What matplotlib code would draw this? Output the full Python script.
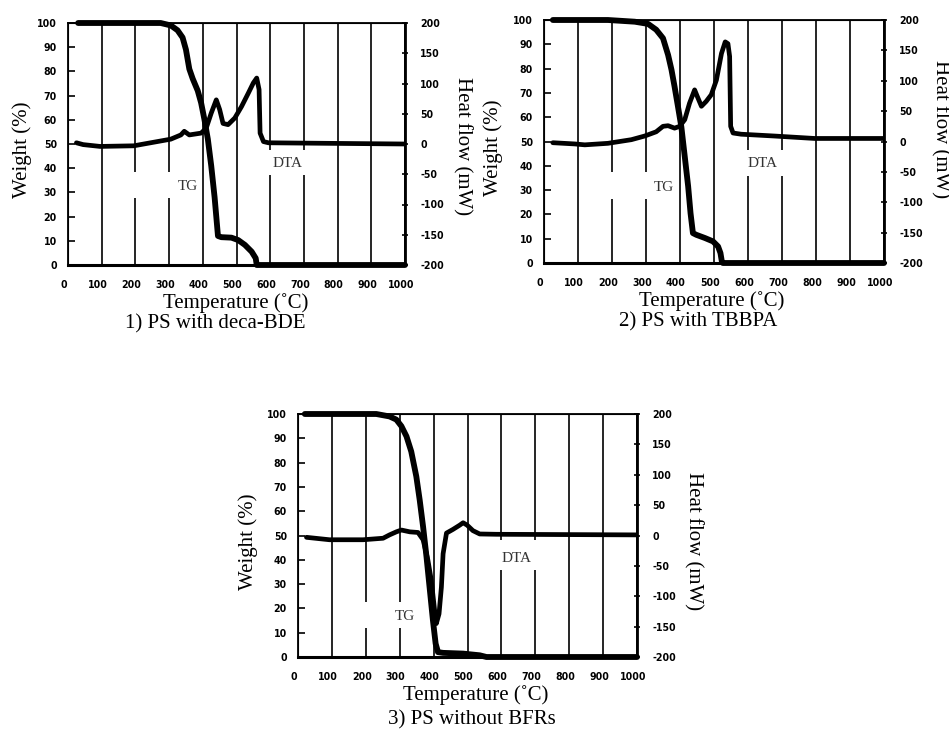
import numpy as np
import matplotlib
matplotlib.use("Agg")
import matplotlib.pyplot as plt
import matplotlib.transforms as mtransforms
from matplotlib.patches import Rectangle

# ---- data ----
# panel 1: PS with deca-BDE
tg1_t = [30, 150, 275, 305, 325, 340, 350, 360, 370, 385, 395, 405, 415, 425, 435, 440, 445,
         455, 485, 505, 525, 545, 557, 560, 600, 1000]
tg1_w = [100, 100, 100, 99, 97, 94, 89, 81, 77, 72, 67, 60, 52, 41, 28, 20, 12,
         11.5, 11.3, 10.3, 8.3, 5.5, 2.8, 0, 0, 0]
dta1_t = [25, 45, 95, 195, 245, 305, 335, 345, 360, 395, 410, 425, 440, 450, 460, 475, 495,
          515, 535, 550, 560, 567, 570, 580, 595, 795, 1000]
dta1_h = [2, -1, -4, -3, 2, 8, 15, 21, 15, 18, 26, 51, 73, 57, 34, 32, 43,
          62, 84, 101, 109, 90, 18, 4, 2, 1, 0]

# panel 2: PS with TBBPA
tg2_t = [26, 188, 267, 306, 330, 350, 365, 375, 384, 394, 404, 414, 424, 431, 438, 448,
         473, 497, 512, 519, 523, 526, 600, 1000]
tg2_w = [100, 100, 99.3, 98.4, 96, 92.5, 85.6, 79.5, 72.6, 64.4, 56, 43.8, 31.5, 20.5, 12.3, 11.6,
         10.3, 8.9, 6.8, 4.1, 0.7, 0, 0, 0]
dta2_t = [26, 90, 120, 188, 257, 296, 330, 350, 365, 384, 399, 414, 428, 443, 451, 463, 477,
          492, 507, 522, 533, 541, 546, 549, 556, 580, 678, 796, 1000]
dta2_h = [-2, -4, -5.5, -3, 3, 9, 16, 25, 26, 22, 25, 36, 63, 85, 74, 58, 66,
          77, 101, 145, 164, 161, 140, 25, 14, 12, 9, 5, 5]

# panel 3: PS without BFRs
tg3_t = [20, 231, 270, 290, 305, 320, 334, 349, 359, 369, 379, 388, 398, 406, 413, 428,
         487, 536, 556, 600, 1000]
tg3_w = [100, 100, 99, 97.7, 95, 90.8, 84.6, 74.3, 64.6, 53.6, 41.3, 28.9, 15.1, 5.5, 2, 1.7,
         1.4, 0.7, 0, 0, 0]
dta3_t = [25, 93, 192, 251, 270, 290, 305, 330, 354, 369, 383, 393, 403, 408, 416, 423, 428,
          438, 457, 477, 487, 499, 516, 536, 585, 1000]
dta3_h = [-3, -7, -7, -4.5, 1, 6, 9, 6, 5, -7, -40, -73, -123, -145, -129, -85, -30,
          4, 10, 17, 21, 17, 8, 2.5, 2, 1]

x_ticks = list(range(0, 1001, 100))
w_ticks = list(range(0, 101, 10))
h_ticks = list(range(-200, 201, 50))

titles = ["1) PS with deca-BDE", "2) PS with TBBPA", "3) PS without BFRs"]

# ---- layout (pixels) ----
W, H = 949, 740
fig = plt.figure(figsize=(W / 100, H / 100), dpi=100)


def px(x0, y0, x1, y1):
    return [x0 / W, 1 - y1 / H, (x1 - x0) / W, (y1 - y0) / H]


serif = "Liberation Serif"
tick_font = dict(family="DejaVu Sans", weight="bold", size=7.6, stretch="condensed")


def panel(box, tg_t, tg_w, dta_t, dta_h, tg_lab, dta_lab, tg_box, dta_box,
          wlab_x, hlab_x, hlab_dy, title_x, temp_x):
    ax = fig.add_axes(px(*box))
    ax.set_xlim(0, 1000)
    ax.set_ylim(0, 100)
    for v in x_ticks[1:-1]:
        ax.axvline(v, color="black", lw=1.2, zorder=1)
    # white boxes under the curve labels, cutting the grid like in the original
    for (x0, x1, y0, y1) in (tg_box, dta_box):
        ax.add_patch(Rectangle((x0, y0), x1 - x0, y1 - y0, facecolor="white",
                               edgecolor="none", zorder=1.5))
    ax.text(tg_lab[0], tg_lab[1], "TG", family=serif, size=11, color="#333333",
            ha="center", va="center", zorder=1.6)
    ax.text(dta_lab[0], dta_lab[1], "DTA", family=serif, size=11, color="#333333",
            ha="center", va="center", zorder=1.6)
    ax.plot(tg_t, tg_w, color="black", lw=4.2, solid_joinstyle="round",
            solid_capstyle="round", zorder=3, clip_on=False)

    ax.set_xticks(x_ticks)
    ax.set_xticklabels([str(v) for v in x_ticks], **tick_font)
    ax.set_yticks(w_ticks)
    ax.set_yticklabels([str(v) for v in w_ticks], **tick_font)
    ax.tick_params(axis="x", length=0, pad=11)
    ax.tick_params(axis="y", direction="in", length=5, width=1.2, pad=8)
    off = mtransforms.ScaledTranslation(-4 / 100, 0, fig.dpi_scale_trans)
    for lab in ax.get_xticklabels():
        lab.set_transform(lab.get_transform() + off)
    for s in ax.spines.values():
        s.set_linewidth(1.3)
    ax.spines["bottom"].set_linewidth(2.2)

    ax2 = ax.twinx()
    ax2.set_ylim(-200, 200)
    ax2.plot(dta_t, dta_h, color="black", lw=3.4, solid_joinstyle="round",
             solid_capstyle="round", zorder=3)
    ax2.set_yticks(h_ticks)
    ax2.set_yticklabels([str(v) for v in h_ticks], **tick_font)
    ax2.tick_params(axis="y", direction="inout", length=4, width=1.2, pad=9)
    ax2.spines["right"].set_linewidth(2.0)

    x0, y0, x1, y1 = box
    cy = (y0 + y1) / 2
    fig.text(wlab_x / W, 1 - (cy + 6) / H, "Weight (%)", family=serif, size=15,
             rotation=90, ha="center", va="center")
    fig.text(hlab_x / W, 1 - (cy + hlab_dy) / H, "Heat flow (mW)", family=serif, size=15,
             rotation=270, ha="center", va="center")
    fig.text(temp_x / W, 1 - (y1 + 38) / H, "Temperature (\u02daC)", family=serif, size=15,
             ha="center", va="center")
    return ax


panel((68, 23, 405, 265), tg1_t, tg1_w, dta1_t, dta1_h,
      (355, 32.5), (652, 42), (150, 380, 27.5, 38.5), (545, 750, 37, 47.5),
      22, 462, 2, 215, 236)
panel((544, 20, 884, 263), tg2_t, tg2_w, dta2_t, dta2_h,
      (352, 31), (644, 41), (150, 385, 26.5, 37.5), (562, 748, 36, 46.5),
      493, 940, -12, 698, 712)
panel((298, 414, 637, 657), tg3_t, tg3_w, dta3_t, dta3_h,
      (315, 16.5), (646, 40.5), (145, 380, 12, 22.6), (566, 752, 36, 48),
      248, 693, 6, 472, 476)

fig.text(215 / W, 1 - 324 / H, titles[0], family=serif, size=15, ha="center", va="center")
fig.text(698 / W, 1 - 322 / H, titles[1], family=serif, size=15, ha="center", va="center")
fig.text(472 / W, 1 - 720 / H, titles[2], family=serif, size=15, ha="center", va="center")

fig.savefig("out.png", dpi=100, facecolor="white")
